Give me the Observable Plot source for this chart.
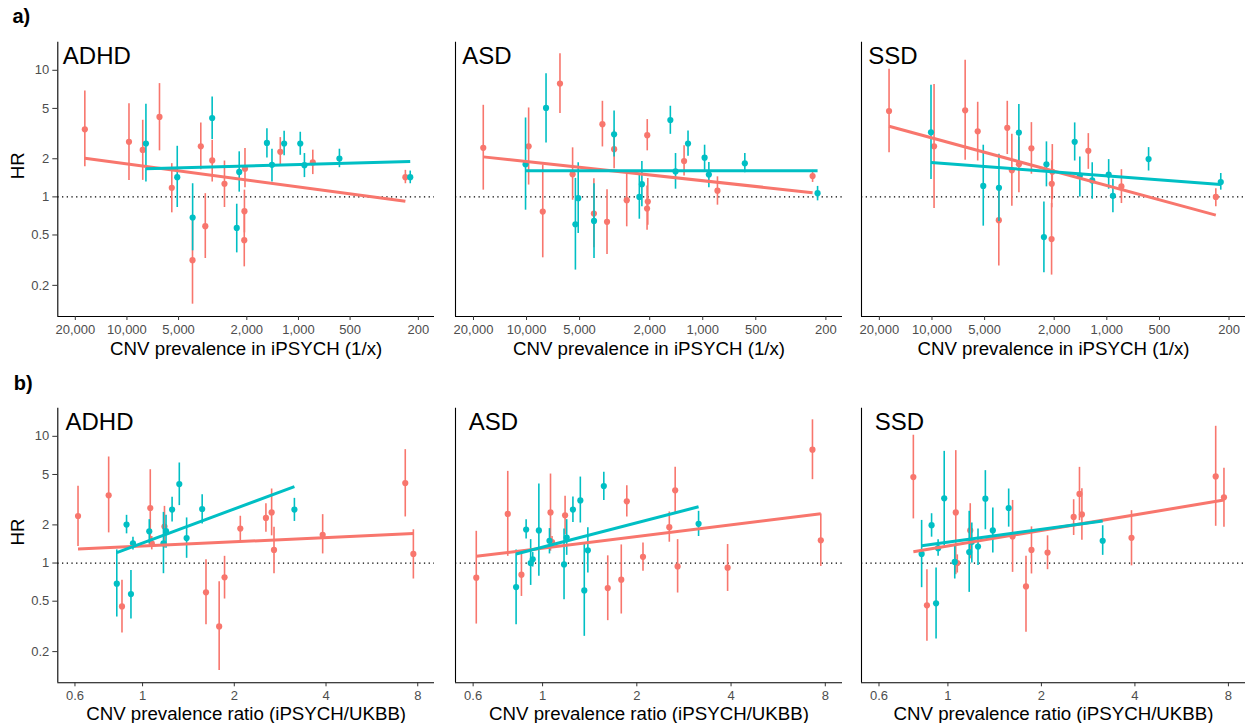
<!DOCTYPE html>
<html>
<head>
<meta charset="utf-8">
<script src="https://cdn.jsdelivr.net/npm/d3@7"></script>
<script src="https://cdn.jsdelivr.net/npm/@observablehq/plot@0.6"></script>
<style>
  body { margin: 0; background: #fff; }
  #chart { position: relative; width: 1245px; height: 723px; overflow: hidden; background: #fff; }
</style>
</head>
<body>
<div id="chart"></div>
<script>
// ---------------- DATA ----------------
const disorders = ["ADHD", "ASD", "SSD"];
const groups = ["deletion", "duplication"];
const groupColors = ["#F8766D", "#00BFC4"];

// CNVs of the first group (red): prevalence in iPSYCH (1/x) and ratio iPSYCH/UKBB
const delPrev  = [17600, 9730, 8090, 6460, 5477, 4147, 3710, 3493, 3183, 2700, 2050, 2065, 2070, 1276, 825, 238];
const delRatio = [0.774, 1.06, 0.614, 7.28, 7.74, 1.784, 2.652, 1.615, 1.18, 2.70, 3.90, 1.858, 0.856, 2.54, 2.093, 1.072];
// CNVs of the second group (teal)
const dupPrev  = [10130, 7750, 5280, 5090, 4140, 3185, 2290, 2215, 1527, 1427, 1212, 976, 923, 577, 223];
const dupRatio = [0.973, null, 1.359, 1.171, 0.823, 1.32, 0.916, 1.395, 1.569, 1.194, 1.25, 3.15, 1.052, 0.886, 0.93];

// Hazard ratios (HR) with 95% CI, per disorder
const adhdDelHR = [3.42, 2.72, 2.35, 4.28, 1.18, 0.316, 2.51, 0.587, 1.94, 1.27, 1.67, 0.771, 0.455, 2.27, 1.87, 1.43];
const adhdDelLo = [1.73, 1.35, 1.35, 2.31, 0.748, 0.142, 1.64, 0.326, 1.31, 0.824, 1.18, 0.52, 0.28, 1.75, 1.50, 1.27];
const adhdDelHi = [6.87, 5.45, 4.03, 7.85, 1.83, 0.712, 3.84, 1.06, 2.80, 1.92, 2.41, 1.13, 0.73, 2.94, 2.34, 1.62];
const adhdDupHR = [null, 2.64, null, 1.43, 0.687, 4.20, 0.569, 1.575, 2.67, 1.79, 2.64, 2.64, 1.78, 2.01, 1.43];
const adhdDupLo = [null, 1.31, null, 0.824, 0.375, 2.84, 0.361, 1.09, 2.03, 1.31, 2.11, 2.13, 1.42, 1.70, 1.27];
const adhdDupHi = [null, 5.39, null, 2.51, 1.27, 6.16, 0.875, 2.27, 3.46, 2.38, 3.30, 3.24, 2.20, 2.38, 1.60];

const asdDelHR = [2.44, 2.51, 0.766, 7.85, 1.51, 0.739, 3.75, 0.635, 2.38, 0.941, 0.919, 3.07, 0.809, 1.92, 1.12, 1.46];
const asdDelLo = [1.13, 1.24, 0.33, 4.55, 0.94, 0.396, 2.48, 0.351, 1.67, 0.58, 0.597, 2.31, 0.545, 1.46, 0.86, 1.30];
const asdDelHi = [5.29, 5.04, 1.78, 13.5, 2.44, 1.39, 5.69, 1.14, 3.36, 1.53, 1.40, 4.08, 1.22, 2.53, 1.44, 1.62];
const asdDupHR = [1.81, 5.04, 0.608, 0.976, 0.646, 3.12, 1.0, 1.26, 4.05, 1.59, 2.64, 2.04, 1.50, 1.84, 1.07];
const asdDupLo = [0.785, 2.67, 0.264, 0.514, 0.326, 2.07, 0.666, 0.834, 3.12, 1.15, 2.09, 1.62, 1.18, 1.55, 0.93];
const asdDupHi = [4.20, 9.41, 1.40, 1.86, 1.27, 4.77, 1.53, 1.90, 5.20, 2.20, 3.32, 2.56, 1.87, 2.20, 1.21];

const ssdDelHR = [4.77, 2.51, null, 4.83, 3.30, 0.654, 3.51, 1.62, 1.81, 2.42, 1.58, 1.27, 0.464, 2.31, 1.21, 1.0];
const ssdDelLo = [2.23, 0.809, null, 1.95, 1.92, 0.285, 2.16, 0.844, 1.08, 1.51, 0.95, 0.82, 0.241, 1.65, 0.886, 0.834];
const ssdDelHi = [10.2, 7.71, null, 12.0, 5.59, 1.13, 5.69, 3.12, 2.94, 3.86, 2.59, 1.93, 0.886, 3.16, 1.64, 1.16];
const ssdDupHR = [3.24, null, null, 1.22, 1.18, 3.22, 0.481, 1.81, 2.72, 1.47, 1.35, 1.50, 1.02, 1.99, 1.31];
const ssdDupLo = [1.37, null, null, 0.587, 0.639, 1.83, 0.251, 1.20, 1.92, 1.0, 0.958, 1.15, 0.748, 1.60, 1.13];
const ssdDupHi = [7.61, null, null, 2.56, 2.17, 5.36, 0.913, 2.72, 3.84, 2.07, 1.86, 1.97, 1.38, 2.45, 1.53];

// Fitted regression lines (HR at the start and end of each group's x range), per disorder
const prevFitDelHR  = [[2.02, 0.924], [2.07, 1.08], [3.61, 0.717]];
const prevFitDupHR  = [[1.67, 1.90], [1.61, 1.61], [1.87, 1.25]];
const ratioFitDelHR = [[1.29, 1.71], [1.13, 2.45], [1.23, 3.14]];
const ratioFitDupHR = [[1.21, 4.01], [1.18, 2.78], [1.37, 2.15]];

// Axis ticks and titles
const prevTicks  = [20000, 10000, 5000, 2000, 1000, 500, 200];
const ratioTicks = [0.6, 1, 2, 4, 8];
const hrTicks    = [0.2, 0.5, 1, 2, 5, 10];
const prevTitle  = "CNV prevalence in iPSYCH (1/x)";
const ratioTitle = "CNV prevalence ratio (iPSYCH/UKBB)";
const rowLabels  = ["a)", "b)"];

// ---------------- BUILD ----------------
const hrSets = [
  [adhdDelHR, adhdDelLo, adhdDelHi, adhdDupHR, adhdDupLo, adhdDupHi],
  [asdDelHR, asdDelLo, asdDelHi, asdDupHR, asdDupLo, asdDupHi],
  [ssdDelHR, ssdDelLo, ssdDelHi, ssdDupHR, ssdDupLo, ssdDupHi]
];

function makeRows(prev, ratio, hr, lo, hi, group) {
  return prev.map((p, i) => ({prev: p, ratio: ratio[i], hr: hr[i], lo: lo[i], hi: hi[i], group}))
             .filter(d => d.hr != null);
}

const FONT = "'Liberation Sans', Arial, Helvetica, sans-serif";
const TICK_TEXT = "#4d4d4d", TICK_LINE = "#333333";
const yDomain = [0.1135, 16.67];
const prevDomain = [161, 25300];
const ratioDomain = [0.527, 9.08];

const cols = [
  {plotLeft: 57.3, plotRight: 434, marginLeft: 57.3, labelDx: [5, 7.7]},
  {plotLeft: 455, plotRight: 842, marginLeft: 12, labelDx: [6.7, 13.3]},
  {plotLeft: 861, plotRight: 1245, marginLeft: 12, labelDx: [6.7, 13.3]}
];
const rowGeo = [
  {top: 0, plotTop: 41.7, plotBottom: 316, height: 362},
  {top: 362, plotTop: 407.7, plotBottom: 682.3, height: 361}
];

const chart = document.getElementById("chart");

for (let r = 0; r < 2; r++) {
  const isTop = r === 0;
  const g = rowGeo[r];
  for (let c = 0; c < 3; c++) {
    const col = cols[c];
    const [dH, dL, dU, uH, uL, uU] = hrSets[c];
    let del = makeRows(delPrev, delRatio, dH, dL, dU, groups[0]);
    let dup = makeRows(dupPrev, dupRatio, uH, uL, uU, groups[1]);
    const xKey = isTop ? "prev" : "ratio";
    if (!isTop) { del = del.filter(d => d.ratio != null); dup = dup.filter(d => d.ratio != null); }

    const fitFor = (rows, hrs, group) => {
      const xs = rows.map(d => d[xKey]);
      const x1 = isTop ? d3.max(xs) : d3.min(xs);
      const x2 = isTop ? d3.min(xs) : d3.max(xs);
      return {x1, x2, y1: hrs[0], y2: hrs[1], group};
    };
    const fits = [
      fitFor(del, isTop ? prevFitDelHR[c] : ratioFitDelHR[c], groups[0]),
      fitFor(dup, isTop ? prevFitDupHR[c] : ratioFitDupHR[c], groups[1])
    ];

    const svgLeft = col.plotLeft - col.marginLeft;
    const marginRight = 2;
    const width = col.plotRight - svgLeft + marginRight;
    const marginTop = g.plotTop - g.top;
    const marginBottom = g.top + g.height - g.plotBottom;
    const xLeftEdge = isTop ? prevDomain[1] : ratioDomain[0];
    const xTicks = isTop ? prevTicks : ratioTicks;
    const xFormat = isTop ? d3.format(",") : (d => String(d));

    const marks = [
      Plot.ruleY([1], {stroke: "black", strokeWidth: 1.2, strokeDasharray: "1.3,3.4"}),
      Plot.ruleX(del, {x: xKey, y1: "lo", y2: "hi", stroke: groupColors[0], strokeWidth: 1.6}),
      Plot.dot(del, {x: xKey, y: "hr", r: 3.1, fill: groupColors[0], stroke: "none"}),
      Plot.ruleX(dup, {x: xKey, y1: "lo", y2: "hi", stroke: groupColors[1], strokeWidth: 1.6}),
      Plot.dot(dup, {x: xKey, y: "hr", r: 3.1, fill: groupColors[1], stroke: "none"}),
      Plot.link(fits.slice(0, 1), {x1: "x1", y1: "y1", x2: "x2", y2: "y2", stroke: groupColors[0], strokeWidth: 3}),
      Plot.link(fits.slice(1), {x1: "x1", y1: "y1", x2: "x2", y2: "y2", stroke: groupColors[1], strokeWidth: 3}),
      // axis lines
      Plot.ruleX([xLeftEdge], {stroke: "black", strokeWidth: 1.1}),
      Plot.ruleY([yDomain[0]], {stroke: "black", strokeWidth: 1.1}),
      // x ticks and tick labels (positioned through the x scale)
      Plot.ruleX(xTicks, {x: d => d, y1: yDomain[0], y2: yDomain[0], insetTop: 0, insetBottom: -4,
        stroke: TICK_LINE, strokeWidth: 1}),
      Plot.text(xTicks, {x: d => d, text: xFormat, frameAnchor: "bottom", lineAnchor: "top", dy: 8,
        fontSize: 13, fill: TICK_TEXT}),
      // panel label and axis title
      Plot.text([disorders[c]], {frameAnchor: "top-left", lineAnchor: "top", textAnchor: "start",
        dx: col.labelDx[r], dy: 5, fontSize: 24, fill: "black"}),
      Plot.text([isTop ? prevTitle : ratioTitle], {frameAnchor: "bottom", lineAnchor: "bottom",
        dy: isTop ? 38.5 : 37.5, fontSize: 18.7, fill: "black"})
    ];
    if (c === 0) {
      marks.push(
        Plot.ruleY(hrTicks, {y: d => d, x1: xLeftEdge, x2: xLeftEdge, insetLeft: -5, insetRight: 0,
          stroke: TICK_LINE, strokeWidth: 1}),
        Plot.text(hrTicks, {y: d => d, text: d => String(d), frameAnchor: "left", textAnchor: "end",
          dx: -8.5, fontSize: 13, fill: TICK_TEXT}),
        Plot.text(["HR"], {frameAnchor: "left", rotate: -90, dx: -39.8, fontSize: 18.7, fill: "black"}),
        Plot.text([rowLabels[r]], {frameAnchor: "top-left", lineAnchor: "bottom", textAnchor: "start",
          dx: isTop ? -45.3 : -44, dy: isTop ? -19.2 : -18.7, fontSize: 20, fontWeight: "bold", fill: "black"})
      );
    }

    const svg = Plot.plot({
      width, height: g.height,
      marginLeft: col.marginLeft, marginRight, marginTop, marginBottom,
      style: {fontFamily: FONT, fontSize: "13px", color: TICK_TEXT, background: "none", overflow: "visible",
              position: "absolute", left: svgLeft + "px", top: g.top + "px"},
      x: isTop
        ? {type: "log", domain: prevDomain, reverse: true, axis: null}
        : {type: "log", domain: ratioDomain, axis: null},
      y: {type: "log", domain: yDomain, axis: null},
      marks
    });
    chart.appendChild(svg);
  }
}
</script>
</body>
</html>
